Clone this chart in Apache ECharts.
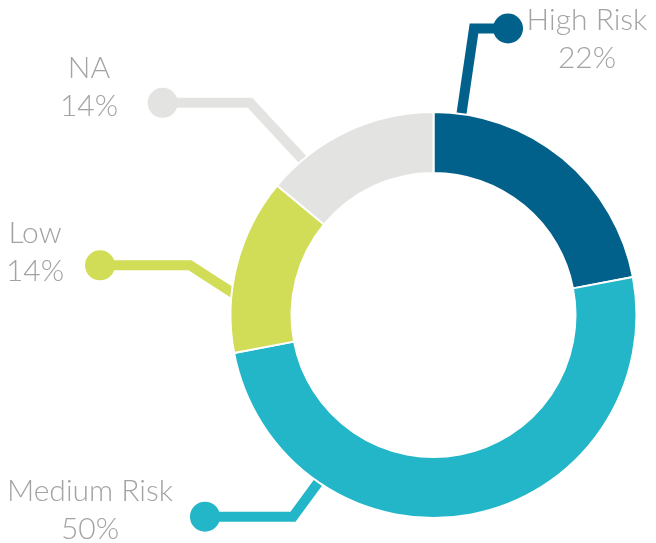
<!DOCTYPE html>
<html>
<head>
<meta charset="utf-8">
<script src="https://cdn.jsdelivr.net/npm/echarts@6/dist/echarts.min.js"></script>
<style>
  html, body { margin: 0; padding: 0; background: #ffffff; }
  #chart { width: 656px; height: 543px; }
</style>
</head>
<body>
<div id="chart"></div>
<script>
// Risk distribution (percent of total)
const categories = ['High Risk', 'Medium Risk', 'Low', 'NA'];
const shares = [22, 50, 14, 14];
const colors = ['#02618a', '#22b6c8', '#d1dd57', '#e3e3e1'];

// Callout layout: text block (centre x, first baseline), dot centre, guide line path
const textAnchors = [[587, 29], [90, 500], [35, 242], [89, 77]];
const dotCenters = [[508, 28.5], [205, 516.7], [100, 265.3], [162.7, 102.8]];
const guidePaths = [
  [[459.1, 130], [474, 28.5], [508, 28.5]],
  [[329.5, 467], [293, 516.7], [205, 516.7]],
  [[250, 304], [190, 265.3], [100, 265.3]],
  [[318, 176], [250, 102.8], [162.7, 102.8]]
];

const FONT_SIZE = 30;
const LINE_H = 38;
const TEXT_COLOR = '#a5a2a2';

const chart = echarts.init(document.getElementById('chart'), null, { renderer: 'canvas' });

const ringData = categories.map((name, i) => ({
  name: name,
  value: shares[i],
  itemStyle: { color: colors[i] }
}));

const dotData = categories.map((name, i) => ({
  name: name,
  value: shares[i],
  label: { backgroundColor: colors[i] }
}));

const pieBase = {
  type: 'pie',
  center: [433.5, 315],
  radius: [142, 203],
  startAngle: 90,
  clockwise: true,
  avoidLabelOverlap: false,
  animation: false
};

chart.setOption({
  animation: false,
  backgroundColor: '#ffffff',
  series: [
    Object.assign({}, pieBase, {
      name: 'ring',
      data: ringData,
      itemStyle: { borderColor: '#ffffff', borderWidth: 2 },
      emphasis: { disabled: true },
      label: {
        show: true,
        position: 'outside',
        formatter: '{n|{b}}\n{n|{c}%}',
        rich: {
          n: {
            fontFamily: 'Lato',
            fontWeight: 300,
            fontSize: FONT_SIZE,
            lineHeight: LINE_H,
            color: TEXT_COLOR,
            align: 'center'
          }
        }
      },
      labelLine: {
        show: true,
        smooth: false,
        showAbove: false,
        lineStyle: { width: 10, join: 'miter', cap: 'butt' }
      },
      labelLayout: function (p) {
        const a = textAnchors[p.dataIndex];
        return {
          x: a[0],
          y: a[1] - 28,
          align: 'center',
          verticalAlign: 'top',
          labelLinePoints: guidePaths[p.dataIndex]
        };
      }
    }),
    Object.assign({}, pieBase, {
      name: 'dots',
      data: dotData,
      silent: true,
      itemStyle: { color: 'rgba(0,0,0,0)' },
      emphasis: { disabled: true },
      label: {
        show: true,
        position: 'outside',
        formatter: ' ',
        fontSize: 10,
        width: 30,
        height: 30,
        lineHeight: 30,
        padding: 0,
        borderRadius: 15
      },
      labelLine: { show: false },
      labelLayout: function (p) {
        const d = dotCenters[p.dataIndex];
        return { x: d[0], y: d[1], align: 'center', verticalAlign: 'middle' };
      }
    })
  ]
});
</script>
</body>
</html>
